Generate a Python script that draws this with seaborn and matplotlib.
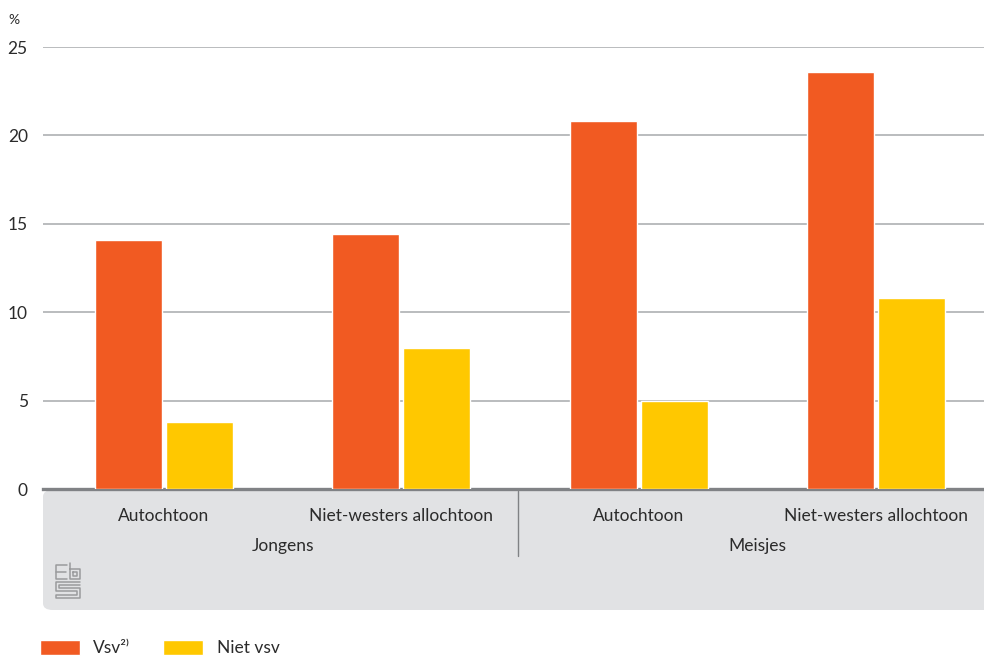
import pandas as pd
import seaborn as sns
import matplotlib.pyplot as plt
from matplotlib.patches import FancyBboxPatch, Patch
from matplotlib.lines import Line2D
import matplotlib.transforms as mtransforms

# Data
groups = ['Jongens', 'Jongens', 'Meisjes', 'Meisjes']
origins = ['Autochtoon', 'Niet-westers allochtoon', 'Autochtoon', 'Niet-westers allochtoon']
vsv = [14.1, 14.4, 20.8, 23.6]
niet_vsv = [3.8, 8.0, 5.0, 10.8]
series_names = ['Vsv\u00b2\u207e', 'Niet vsv']
yticks = [0, 5, 10, 15, 20, 25]

orange = '#f15a22'
yellow = '#ffc800'
text_col = '#2b2b2b'
fs = 12.5

sns.set_style('white')
plt.rcParams['font.family'] = ['Lato', 'DejaVu Sans']

df = pd.DataFrame({
    'pos': [f'{g}|{o}' for g, o in zip(groups, origins)] * 2,
    'serie': [series_names[0]] * 4 + [series_names[1]] * 4,
    'waarde': vsv + niet_vsv,
})

W, H = 984, 657
fig = plt.figure(figsize=(W / 100, H / 100), dpi=100)
ax = fig.add_axes([43 / W, 1 - 489 / H, 1 - 43 / W, (489 - 47) / H])

# gray panel below the axis
panel = FancyBboxPatch((43 / W, 1 - 610 / H), 1.2, (610 - 490) / H,
                       boxstyle='round,pad=0,rounding_size=0.01',
                       transform=fig.transFigure, facecolor='#e1e2e4',
                       edgecolor='none', zorder=-5)
fig.add_artist(panel)

sns.barplot(data=df, x='pos', y='waarde', hue='serie',
            palette=[orange, yellow], width=0.6, gap=0.06,
            saturation=1, legend=False, ax=ax, zorder=3)

ax.set_ylim(0, 25)
ax.set_xlim(-0.51, 3.455)
ax.set_yticks(yticks)
ax.set_yticklabels([str(t) for t in yticks], fontsize=fs, color=text_col)
ax.yaxis.grid(True, color='#a7a9ac', linewidth=1.1)
ax.set_axisbelow(True)
ax.tick_params(axis='y', length=0, pad=11)
ax.tick_params(axis='x', length=0, pad=14)
ax.set_xticks(range(4))
ax.set_xticklabels(origins, fontsize=fs, color=text_col)
ax.set_xlabel('')
ax.set_ylabel('')
for s in ['top', 'right', 'left']:
    ax.spines[s].set_visible(False)
ax.spines['bottom'].set_color('#808285')
ax.spines['bottom'].set_linewidth(2.4)
ax.patch.set_alpha(0)

# group labels
trans = mtransforms.blended_transform_factory(ax.transData, fig.transFigure)
ax.text(0.5, 1 - 546 / H, 'Jongens', transform=trans, ha='center', va='center',
        fontsize=fs, color=text_col)
ax.text(2.5, 1 - 546 / H, 'Meisjes', transform=trans, ha='center', va='center',
        fontsize=fs, color=text_col)
fig.add_artist(Line2D([518 / W, 518 / W], [1 - 491 / H, 1 - 556 / H],
                      color='#808285', linewidth=1))

fig.text(8 / W, 1 - 20 / H, '%', fontsize=10, color=text_col, va='center')

# small cbs logo
def px(pts):
    return [p[0] / W for p in pts], [1 - p[1] / H for p in pts]

logo = [
    [(67, 565), (56, 565), (56, 579), (67, 579)],
    [(56, 572), (66, 572)],
    [(70, 563), (70, 579), (80, 579), (80, 569), (70, 569)],
    [(73, 572), (77, 572), (77, 576), (73, 576), (73, 572)],
    [(80, 582), (56, 582), (56, 591), (77, 591), (77, 595), (56, 595), (56, 598), (80, 598), (80, 588), (59, 588), (59, 585), (80, 585)],
]
for seg in logo:
    xs, ys = px(seg)
    fig.add_artist(Line2D(xs, ys, color='#9a9b9d', linewidth=1.1))

# legend
handles = [Patch(facecolor=orange), Patch(facecolor=yellow)]
fig.legend(handles, series_names, loc='upper left',
           bbox_to_anchor=(24 / W, 1 - 624 / H), ncol=2, frameon=False,
           fontsize=fs, handlelength=2.3, handleheight=1.0,
           handletextpad=0.8, columnspacing=1.9, labelcolor=text_col)

fig.savefig('out.png', dpi=100)
